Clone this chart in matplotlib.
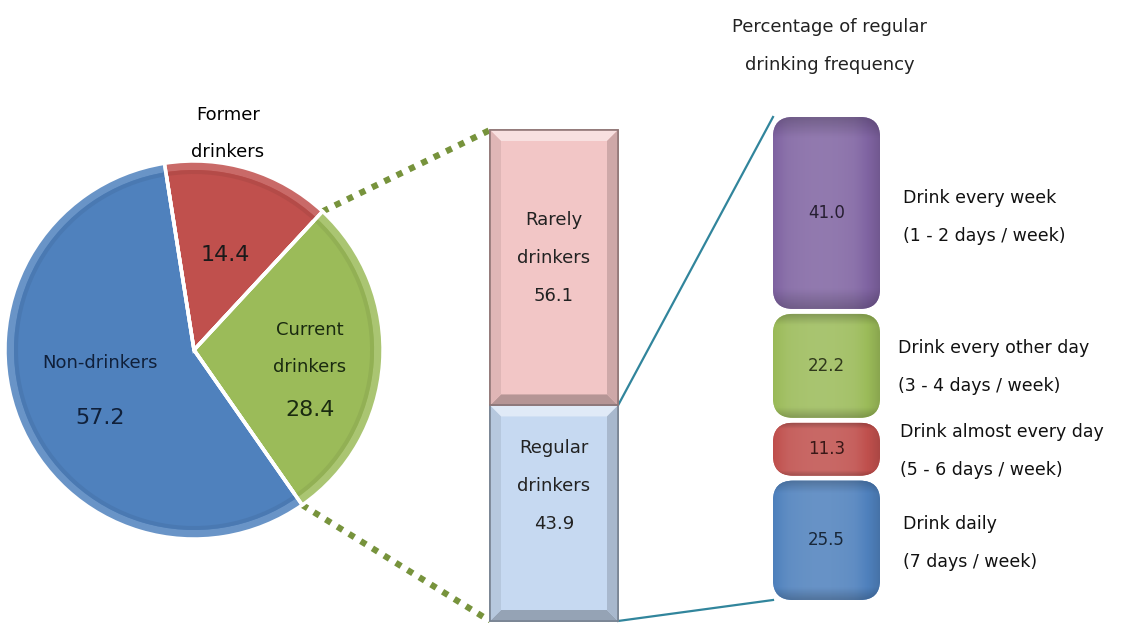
import numpy as np
import matplotlib
matplotlib.use("Agg")
import matplotlib.pyplot as plt
from matplotlib.patches import FancyBboxPatch, Rectangle, Polygon, Wedge
from matplotlib.colors import to_rgb

# ---- data ----
pie_labels = ["Former\ndrinkers", "Current\ndrinkers", "Non-drinkers"]
pie_values = [14.4, 28.4, 57.2]
pie_colors = ["#C0504D", "#9BBB59", "#4F81BD"]

mid_labels = ["Regular\ndrinkers", "Rarely\ndrinkers"]
mid_values = [43.9, 56.1]
mid_colors = ["#C6D9F1", "#F2C6C6"]

freq_labels = ["Drink daily\n(7 days / week)",
               "Drink almost every day\n(5 - 6 days / week)",
               "Drink every other day\n(3 - 4 days / week)",
               "Drink every week\n(1 - 2 days / week)"]
freq_values = [25.5, 11.3, 22.2, 41.0]
freq_colors = ["#4F81BD", "#C0504D", "#9BBB59", "#8064A2"]

title = "Percentage of regular\ndrinking frequency"

W, H = 1124, 623
FONT = ["DejaVu Sans"]


def Y(py):
    # pixel row (top origin) -> data y (bottom origin)
    return H - py


def shade(c, f):
    r, g, b = to_rgb(c)
    if f >= 0:
        return (r + (1 - r) * f, g + (1 - g) * f, b + (1 - b) * f)
    return (r * (1 + f), g * (1 + f), b * (1 + f))


fig = plt.figure(figsize=(W / 100, H / 100), dpi=100)
ax = fig.add_axes([0, 0, 1, 1])

# ---- pie ----
pc = (194, Y(350))
pr = 189
wedges, _ = ax.pie(pie_values, colors=pie_colors, startangle=99, counterclock=False,
                   explode=[0, 0.04, 0], center=pc, radius=pr,
                   wedgeprops=dict(edgecolor="white", linewidth=2.5), frame=True)
for w, col in zip(wedges, pie_colors):
    # bevel rim
    rim = Wedge(w.center, w.r, w.theta1, w.theta2, width=9,
                facecolor=shade(col, 0.15), edgecolor="none", zorder=2.5)
    ax.add_patch(rim)
    inner = Wedge(w.center, w.r - 9, w.theta1, w.theta2, width=4,
                  facecolor=shade(col, -0.06), edgecolor="none", zorder=2.6)
    ax.add_patch(inner)
    edge = Wedge(w.center, w.r, w.theta1, w.theta2, facecolor="none",
                 edgecolor="white", linewidth=2.5, zorder=2.7)
    ax.add_patch(edge)

ax.text(228, Y(115), "Former", ha="center", va="center", fontsize=13, family=FONT)
ax.text(228, Y(152), "drinkers", ha="center", va="center", fontsize=13, family=FONT)
ax.text(225, Y(255), f"{pie_values[0]:.1f}", ha="center", va="center", fontsize=16,
        family=FONT, color="#1a1a1a", zorder=5)
ax.text(310, Y(330), "Current", ha="center", va="center", fontsize=13, family=FONT,
        color="#1a2a10", zorder=5)
ax.text(310, Y(367), "drinkers", ha="center", va="center", fontsize=13, family=FONT,
        color="#1a2a10", zorder=5)
ax.text(310, Y(410), f"{pie_values[1]:.1f}", ha="center", va="center", fontsize=16,
        family=FONT, color="#1a2a10", zorder=5)
ax.text(100, Y(363), "Non-drinkers", ha="center", va="center", fontsize=13, family=FONT,
        color="#10203a", zorder=5)
ax.text(100, Y(418), f"{pie_values[2]:.1f}", ha="center", va="center", fontsize=16,
        family=FONT, color="#10203a", zorder=5)

# ---- middle stacked bar ----
mx0, mx1 = 490, 618
m_bottom, m_top = Y(621), Y(130)
m_scale = (m_top - m_bottom) / sum(mid_values)
m_bottoms = m_bottom + np.concatenate([[0], np.cumsum(mid_values)[:-1]]) * m_scale
bev = 11
mid_text_top = [Y(448), Y(220)]
for val, b, col, lab, ty in zip(mid_values, m_bottoms, mid_colors, mid_labels, mid_text_top):
    h = val * m_scale
    ax.bar(mx0, h, bottom=b, width=mx1 - mx0, align="edge", color=col,
           edgecolor=shade(col, -0.35), linewidth=1.2, zorder=3)
    t = b + h
    # bevel faces
    ax.add_patch(Polygon([(mx0, t), (mx1, t), (mx1 - bev, t - bev), (mx0 + bev, t - bev)],
                         closed=True, facecolor=shade(col, 0.45), edgecolor="none", zorder=3.1))
    ax.add_patch(Polygon([(mx0, b), (mx1, b), (mx1 - bev, b + bev), (mx0 + bev, b + bev)],
                         closed=True, facecolor=shade(col, -0.25), edgecolor="none", zorder=3.1))
    ax.add_patch(Polygon([(mx0, b), (mx0, t), (mx0 + bev, t - bev), (mx0 + bev, b + bev)],
                         closed=True, facecolor=shade(col, -0.08), edgecolor="none", zorder=3.1))
    ax.add_patch(Polygon([(mx1, b), (mx1, t), (mx1 - bev, t - bev), (mx1 - bev, b + bev)],
                         closed=True, facecolor=shade(col, -0.15), edgecolor="none", zorder=3.1))
    ax.add_patch(Rectangle((mx0, b), mx1 - mx0, h, facecolor="none",
                           edgecolor=shade(col, -0.4), linewidth=1.2, zorder=3.2))
    lines = lab.split("\n") + [f"{val:.1f}"]
    for k, s in enumerate(lines):
        ax.text((mx0 + mx1) / 2, ty - 38 * k, s, ha="center", va="center", fontsize=13,
                family=FONT, color="#222222", zorder=5)

# ---- right stacked rounded bars ----
rx0, rx1 = 773, 880
r_bottom, r_top = Y(600), Y(117)
gap = 5
r_scale = (r_top - r_bottom - gap * (len(freq_values) - 1)) / sum(freq_values)
r_bottoms = r_bottom + np.concatenate([[0], np.cumsum(freq_values)[:-1]]) * r_scale \
    + np.arange(len(freq_values)) * gap
label_y = [Y(543), Y(451), Y(367), Y(217)]
label_x = [903, 900, 898, 903]
grad = np.linspace(0, 1, 256)
for val, b, col, lab, ly, lx in zip(freq_values, r_bottoms, freq_colors, freq_labels,
                                    label_y, label_x):
    h = val * r_scale
    patch = FancyBboxPatch((rx0, b), rx1 - rx0, h,
                           boxstyle="round,pad=0,rounding_size=20",
                           facecolor=col, edgecolor="none", zorder=3)
    ax.add_patch(patch)
    # cylinder shading (light band left of centre, darker sides)
    img = np.zeros((1, 256, 3))
    for k in range(256):
        d = (grad[k] - 0.45) / 0.55
        f = 0.14 * (1 - d ** 2) - 0.30 * max(0, abs(d) - 0.55) ** 1.2
        img[0, k] = shade(col, f)
    im = ax.imshow(img, extent=(rx0, rx1, b, b + h), aspect="auto",
                   interpolation="bilinear", zorder=3.1)
    im.set_clip_path(patch)
    # darker ends, slight highlight near top
    cap_img = np.zeros((64, 1, 4))
    for k in range(64):
        d = abs(k / 63 - 0.5) * 2
        cap_img[k, 0] = (0, 0, 0, max(0, d - 0.8) * 1.0)
    im2 = ax.imshow(cap_img, extent=(rx0, rx1, b, b + h), aspect="auto",
                    interpolation="bilinear", zorder=3.2)
    im2.set_clip_path(patch)
    ax.text((rx0 + rx1) / 2, b + h / 2, f"{val:.1f}", ha="center", va="center",
            fontsize=12, family=FONT, color=shade(col, -0.7), zorder=5)
    l1, l2 = lab.split("\n")
    ax.text(lx, ly + 19, l1, ha="left", va="center", fontsize=12.5, family=FONT,
            color="#111111")
    ax.text(lx, ly - 19, l2, ha="left", va="center", fontsize=12.5, family=FONT,
            color="#111111")

ax.text(830, Y(27), title.split("\n")[0], ha="center", va="center", fontsize=13,
        family=FONT, color="#222222")
ax.text(830, Y(65), title.split("\n")[1], ha="center", va="center", fontsize=13,
        family=FONT, color="#222222")

# ---- connector lines ----
g = wedges[1]
th1, th2 = np.deg2rad(g.theta1), np.deg2rad(g.theta2)
gx, gy = g.center
top_tip = (gx + g.r * np.cos(th2), gy + g.r * np.sin(th2))
bot_tip = (gx + g.r * np.cos(th1), gy + g.r * np.sin(th1))
ax.plot([top_tip[0], mx0], [top_tip[1], m_top], color="#77933C", lw=4.5,
        linestyle=(0, (1, 1.2)), zorder=1)
ax.plot([bot_tip[0], mx0], [bot_tip[1], m_bottom], color="#77933C", lw=4.5,
        linestyle=(0, (1, 1.2)), zorder=1)
ax.plot([mx1, rx0], [m_bottoms[1], r_top], color="#31859C", lw=1.6, zorder=1)
ax.plot([mx1, rx0], [m_bottom, r_bottom], color="#31859C", lw=1.6, zorder=1)

ax.set_xlim(0, W)
ax.set_ylim(0, H)
ax.set_aspect("auto")
ax.axis("off")

fig.savefig("out.png", dpi=100)
